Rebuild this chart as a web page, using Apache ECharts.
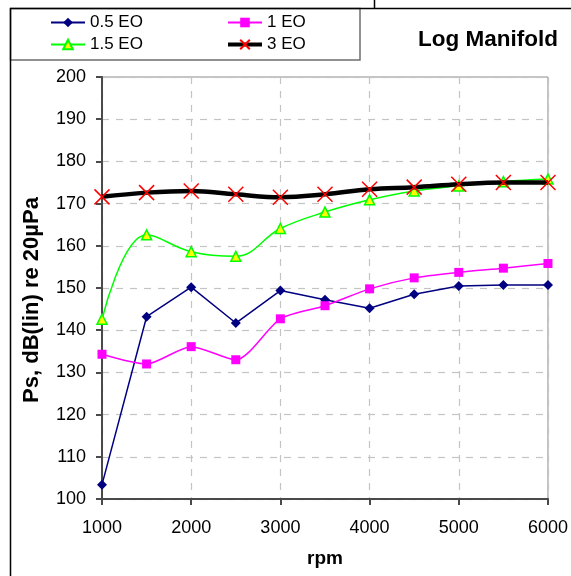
<!DOCTYPE html>
<html>
<head>
<meta charset="utf-8">
<script src="https://cdn.jsdelivr.net/npm/echarts@6/dist/echarts.min.js"></script>
<style>
  html, body { margin: 0; padding: 0; background: #fff; }
  #chart { width: 571px; height: 576px; }
</style>
</head>
<body>
<div id="chart"></div>
<script>
// Engine speed (rpm) for each measurement
const rpm = [1000, 1500, 2000, 2500, 3000, 3500, 4000, 4500, 5000, 5500, 6000];

// Sound pressure level per engine order, dB(lin) re 20µPa
const eo05 = [103.4, 143.2, 150.2, 141.7, 149.4, 147.2, 145.2, 148.5, 150.5, 150.7, 150.7];
const eo10 = [134.3, 132.0, 136.1, 133.0, 142.7, 145.8, 149.8, 152.4, 153.7, 154.7, 155.8];
const eo15 = [142.6, 162.6, 158.6, 157.5, 164.1, 168.0, 170.9, 173.0, 174.2, 175.2, 175.8];
const eo30 = [171.6, 172.6, 173.0, 172.2, 171.5, 172.2, 173.4, 173.9, 174.6, 175.0, 175.0];

const yTicks = [100, 110, 120, 130, 140, 150, 160, 170, 180, 190, 200];
const xTicks = [1000, 2000, 3000, 4000, 5000, 6000];

const pairs = vals => rpm.map((r, i) => [r, vals[i]]);

const FONT = 'Liberation Sans, Arial, sans-serif';
const crossPath = 'path://M0,0L10,10M10,0L0,10';

const chart = echarts.init(document.getElementById('chart'), null, { renderer: 'canvas' });

const legendText = { fontFamily: FONT, fontSize: 17, color: '#000' };

chart.setOption({
  animation: false,
  backgroundColor: '#fff',
  title: {
    text: 'Log Manifold',
    left: 413, top: 23,
    textStyle: { fontFamily: FONT, fontSize: 22.5, fontWeight: 'bold', color: '#000' }
  },
  legend: [
    {
      data: ['0.5 EO', '1.5 EO'],
      orient: 'vertical', left: 45, top: 9,
      itemWidth: 34, itemHeight: 12, itemGap: 5,
      textStyle: legendText
    },
    {
      data: ['1 EO', { name: '3 EO', lineStyle: { width: 4, color: '#000' } }],
      orient: 'vertical', left: 221, top: 9,
      itemWidth: 34, itemHeight: 12, itemGap: 5,
      textStyle: legendText
    }
  ],
  grid: {
    left: 102, right: 22, top: 77, bottom: 77,
    show: true, borderColor: '#8c8c8c', borderWidth: 1
  },
  xAxis: {
    type: 'value', min: 1000, max: 6000, interval: 1000,
    name: 'rpm', nameLocation: 'middle', nameGap: 50,
    nameTextStyle: { fontFamily: FONT, fontSize: 19, fontWeight: 'bold', color: '#000' },
    axisLine: { lineStyle: { color: '#4a4a4a', width: 2 } },
    axisTick: { show: true, length: 6, lineStyle: { color: '#4a4a4a', width: 2 } },
    axisLabel: {
      fontFamily: FONT, fontSize: 18, color: '#000', margin: 20,
      formatter: v => xTicks.includes(v) ? String(v) : ''
    },
    splitLine: { show: true, lineStyle: { color: '#c4c4c4', type: [7, 7], width: 1.2 } }
  },
  yAxis: {
    type: 'value', min: 100, max: 200, interval: 10,
    name: 'Ps, dB(lin) re 20µPa', nameLocation: 'middle', nameGap: 59, nameRotate: 90,
    nameTextStyle: {
      fontFamily: FONT, fontSize: 22, fontWeight: 'bold', color: '#000',
      padding: [0, 24, 0, 0]
    },
    axisLine: { show: true, lineStyle: { color: '#4a4a4a', width: 2 } },
    axisTick: { show: true, length: 6, lineStyle: { color: '#4a4a4a', width: 2 } },
    axisLabel: {
      fontFamily: FONT, fontSize: 18, color: '#000', margin: 16,
      formatter: v => yTicks.includes(v) ? String(v) : ''
    },
    splitLine: { show: true, lineStyle: { color: '#c4c4c4', type: [7, 7], width: 1.2 } }
  },
  series: [
    {
      name: '0.5 EO', type: 'line', data: pairs(eo05),
      symbol: 'diamond', symbolSize: 10,
      lineStyle: { color: '#000080', width: 1.5 },
      itemStyle: { color: '#000080' }, z: 3
    },
    {
      name: '1 EO', type: 'line', data: pairs(eo10), smooth: 0.25,
      symbol: 'rect', symbolSize: 9,
      lineStyle: { color: '#ff00ff', width: 1.5 },
      itemStyle: { color: '#ff00ff' }, z: 3
    },
    {
      name: '1.5 EO', type: 'line', data: pairs(eo15), smooth: 0.4,
      symbol: 'triangle', symbolSize: 10,
      lineStyle: { color: '#00ff00', width: 1.5 },
      itemStyle: { color: '#ffff00', borderColor: '#00ff00', borderWidth: 1.5 }, z: 4
    },
    {
      name: '3 EO', type: 'line', data: pairs(eo30), smooth: 0.4,
      symbol: crossPath, symbolSize: 15,
      lineStyle: { color: '#000000', width: 4.5 },
      itemStyle: { color: 'rgba(0,0,0,0)', borderColor: '#ff0000', borderWidth: 1.5 }, z: 5
    }
  ],
  graphic: [
    // frame lines around the legend block and left edge
    { type: 'line', shape: { x1: 10, y1: 8.5, x2: 571, y2: 8.5 }, style: { stroke: '#000', lineWidth: 1.5 }, silent: true },
    { type: 'line', shape: { x1: 374.5, y1: 0, x2: 374.5, y2: 8 }, style: { stroke: '#000', lineWidth: 1.5 }, silent: true },
    { type: 'line', shape: { x1: 10.5, y1: 8, x2: 10.5, y2: 576 }, style: { stroke: '#000', lineWidth: 1.5 }, silent: true },
    { type: 'rect', shape: { x: 10.5, y: 8.5, width: 349.5, height: 51.5 }, style: { fill: 'none', stroke: '#6e6e6e', lineWidth: 1.5 }, silent: true, z: -1 }
  ]
});
</script>
</body>
</html>
